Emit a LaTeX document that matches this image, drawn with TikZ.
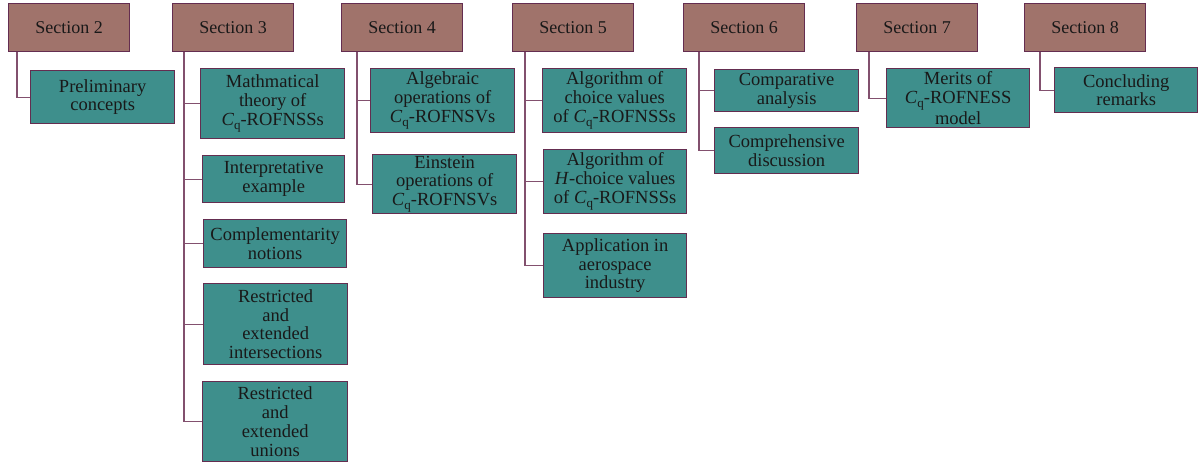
\documentclass[tikz,border=0pt]{standalone}
\usepackage{fontspec}
\setmainfont{Liberation Serif}
\usetikzlibrary{calc}
\definecolor{secfill}{RGB}{160,115,107}
\definecolor{subfill}{RGB}{62,143,140}
\definecolor{edgecol}{RGB}{100,45,80}
\definecolor{linkcol}{RGB}{130,80,110}
\definecolor{txt}{RGB}{25,25,25}
\newcommand\Cq{\textit{C}\raisebox{-0.5ex}{\fontsize{13}{13}\selectfont q}}
\tikzset{
  secbox/.style={draw=edgecol, fill=secfill, line width=1.3pt, anchor=north west,
    minimum width=121pt, minimum height=48pt, inner sep=1pt, text=txt,
    font=\fontsize{18}{18.7}\selectfont},
  subbox/.style={draw=edgecol, fill=subfill, line width=1.3pt, anchor=north west,
    inner sep=1pt, align=center, text=txt, font=\fontsize{18.5}{18.7}\selectfont},
  link/.style={draw=linkcol, line width=1.2pt}
}
\begin{document}
\begin{tikzpicture}[x=1pt,y=-1pt]
\useasboundingbox (0,0) rectangle (1198,462);
% sections
\node[secbox] (s2) at (8,3) {Section 2};
\node[secbox] (s3) at (172,3) {Section 3};
\node[secbox] (s4) at (341,3) {Section 4};
\node[secbox] (s5) at (512,3) {Section 5};
\node[secbox] (s6) at (683,3) {Section 6};
\node[secbox] (s7) at (856,3) {Section 7};
\node[secbox] (s8) at (1024,3) {Section 8};
% children
\node[subbox, minimum width=144pt, minimum height=53pt] (c21) at (30,70) {Preliminary\\concepts};
\node[subbox, minimum width=144pt, minimum height=70pt] (c31) at (200,68) {Mathmatical\\theory of\\\Cq-ROFNSSs};
\node[subbox, minimum width=142pt, minimum height=47pt] (c32) at (202,155) {Interpretative\\example};
\node[subbox, minimum width=143pt, minimum height=48pt] (c33) at (203,219) {Complementarity\\notions};
\node[subbox, minimum width=144pt, minimum height=81pt] (c34) at (203,283) {Restricted\\and\\extended\\intersections};
\node[subbox, minimum width=145pt, minimum height=80pt] (c35) at (202,381) {Restricted\\and\\extended\\unions};
\node[subbox, minimum width=144pt, minimum height=64pt] (c41) at (370,68) {Algebraic\\operations of\\\Cq-ROFNSVs};
\node[subbox, minimum width=144pt, minimum height=59pt] (c42) at (372,154) {Einstein\\operations of\\\Cq-ROFNSVs};
\node[subbox, minimum width=144pt, minimum height=64pt] (c51) at (542,68) {Algorithm of\\choice values\\of \Cq-ROFNSSs};
\node[subbox, minimum width=143pt, minimum height=64pt] (c52) at (543,149) {Algorithm of\\\textit{H}-choice values\\of \Cq-ROFNSSs};
\node[subbox, minimum width=143pt, minimum height=64pt] (c53) at (543,233) {Application in\\aerospace\\industry};
\node[subbox, minimum width=144pt, minimum height=42pt] (c61) at (714,69) {Comparative\\analysis};
\node[subbox, minimum width=144pt, minimum height=46pt] (c62) at (714,127) {Comprehensive\\discussion};
\node[subbox, minimum width=143pt, minimum height=59pt] (c71) at (886,68) {Merits of\\\Cq-ROFNESS\\model};
\node[subbox, minimum width=143pt, minimum height=45pt] (c81) at (1054,67) {Concluding\\remarks};
% connectors
\coordinate (v2) at ($(s2.south west)+(9,0)$);
\coordinate (v3) at ($(s3.south west)+(12,0)$);
\coordinate (v4) at ($(s4.south west)+(16,0)$);
\coordinate (v5) at ($(s5.south west)+(13,0)$);
\coordinate (v6) at ($(s6.south west)+(16,0)$);
\coordinate (v7) at ($(s7.south west)+(13,0)$);
\coordinate (v8) at ($(s8.south west)+(16,0)$);
\draw[link] (v2) |- (c21.west);
\draw[link] (v3) |- (c35.west);
\foreach \c in {c31,c32,c33,c34} \draw[link] (v3 |- \c.west) -- (\c.west);
\draw[link] (v4) |- (c42.west);
\draw[link] (v4 |- c41.west) -- (c41.west);
\draw[link] (v5) |- (c53.west);
\foreach \c in {c51,c52} \draw[link] (v5 |- \c.west) -- (\c.west);
\draw[link] (v6) |- (c62.west);
\draw[link] (v6 |- c61.west) -- (c61.west);
\draw[link] (v7) |- (c71.west);
\draw[link] (v8) |- (c81.west);
\end{tikzpicture}
\end{document}
